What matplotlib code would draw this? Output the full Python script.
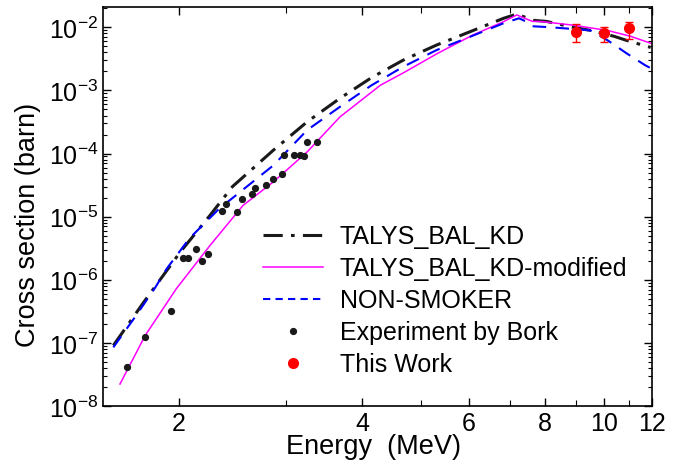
import matplotlib
matplotlib.use("Agg")
import matplotlib.pyplot as plt
from matplotlib.lines import Line2D
from matplotlib.ticker import FixedLocator, FixedFormatter, NullFormatter, LogLocator

plt.rcParams['font.family'] = ['Liberation Sans', 'DejaVu Sans']
plt.rcParams['mathtext.fontset'] = 'custom'
plt.rcParams['mathtext.rm'] = 'Liberation Sans'
plt.rcParams['mathtext.it'] = 'Liberation Sans:italic'
plt.rcParams['mathtext.default'] = 'regular'

# TALYS_BAL_KD
talys_e = [1.56, 1.66, 1.75, 2.01, 2.25, 2.45, 2.86, 3.25, 3.68, 4.15, 4.68, 5.31, 6.03, 6.84, 7.19,
           7.66, 8.05, 8.91, 9.5, 10.4, 10.9, 11.94]
talys_xs = [9.1e-8, 2.13e-7, 4.4e-7, 2.75e-6, 1.05e-5, 3.0e-5, 1.13e-4, 3.18e-4, 7.5e-4, 1.6e-3, 3.03e-3,
            5.25e-3, 8.55e-3, 1.39e-2, 1.62e-2, 1.29e-2, 1.24e-2, 1.0e-2, 8.95e-3, 7.2e-3, 6.2e-3, 4.8e-3]

# TALYS_BAL_KD-modified
mod_e = [1.60, 1.76, 1.98, 2.25, 2.55, 2.86, 3.25, 3.68, 4.29, 4.68, 5.31, 6.08, 6.84, 7.19, 7.63, 7.86,
         8.91, 10.15, 11.07, 11.94]
mod_xs = [2.23e-8, 1.31e-7, 7.2e-7, 3.5e-6, 1.51e-5, 3.56e-5, 1.06e-4, 3.8e-4, 1.21e-3, 1.9e-3, 3.8e-3,
          7.5e-3, 1.23e-2, 1.57e-2, 1.24e-2, 1.24e-2, 1.08e-2, 8.9e-3, 7.2e-3, 5.6e-3]

# NON-SMOKER
ns_e = [1.56, 1.70, 1.83, 1.91, 2.08, 2.33, 2.86, 3.25, 3.68, 4.15, 4.68, 5.31, 6.03, 6.84, 7.25, 7.5,
        7.63, 8.2, 9.5, 10.15, 10.9, 11.7, 12.0]
ns_xs = [8.5e-8, 2.7e-7, 7.65e-7, 1.5e-6, 4.5e-6, 1.34e-5, 6.5e-5, 2.35e-4, 5.5e-4, 1.21e-3, 2.38e-3,
         4.37e-3, 7.1e-3, 1.16e-2, 1.39e-2, 1.2e-2, 1.04e-2, 1.0e-2, 8.95e-3, 6.2e-3, 3.87e-3, 2.5e-3, 2.2e-3]

# Experiment by Bork
bork_e = [1.646, 1.76, 1.94, 2.03, 2.07, 2.13, 2.18, 2.23, 2.35, 2.39, 2.49, 2.54, 2.64, 2.67, 2.78, 2.86,
          2.95, 2.98, 3.09, 3.16, 3.21, 3.25, 3.37]
bork_xs = [4.2e-8, 1.23e-7, 3.26e-7, 2.21e-6, 2.2e-6, 3.1e-6, 1.95e-6, 2.56e-6, 1.23e-5, 1.6e-5, 1.2e-5,
           1.88e-5, 2.3e-5, 2.8e-5, 3.2e-5, 3.9e-5, 4.7e-5, 9.4e-5, 9.6e-5, 9.6e-5, 9.2e-5, 1.5e-4, 1.5e-4]

# This work
this_e = [9.0, 10.0, 11.0]
this_xs = [8.55e-3, 8.0e-3, 9.6e-3]
this_lo = [5.8e-3, 5.9e-3, 6.45e-3]
this_hi = [1.12e-2, 1.03e-2, 1.23e-2]

fig = plt.figure(figsize=(6.81, 4.64), dpi=100)
ax = fig.add_axes([0.1512, 0.1228, 0.8062, 0.86])

ax.plot(talys_e, talys_xs, color='#1a1a1a', lw=2.2, dashes=(6.3, 2.7, 1.2, 2.7))
ax.plot(mod_e, mod_xs, color='#ff00ff', lw=1.1)
ax.plot(ns_e, ns_xs, color='#0000ff', lw=1.5, dashes=(6.5, 4.5))

bork_err = [v * 0.06 for v in bork_xs]
ax.errorbar(bork_e, bork_xs, yerr=bork_err, fmt='o', color='#1a1a1a', ms=4.2,
            capsize=1.5, elinewidth=0.8)

yerr = [[v - lo for v, lo in zip(this_xs, this_lo)], [hi - v for v, hi in zip(this_xs, this_hi)]]
ax.errorbar(this_e, this_xs, yerr=yerr, fmt='o', color='#ff0000', ms=7,
            capsize=3, elinewidth=1)

ax.set_xscale('log')
ax.set_yscale('log')
ax.set_xlim(1.5, 12)
ax.set_ylim(1e-8, 2.1e-2)

ax.xaxis.set_major_locator(FixedLocator([2, 4, 6, 8, 10, 12]))
ax.xaxis.set_minor_locator(FixedLocator([3, 5, 7, 9, 11]))
ax.xaxis.set_major_formatter(FixedFormatter(['2', '4', '6', '8', '10', '12']))
ax.xaxis.set_minor_formatter(NullFormatter())
ax.yaxis.set_major_locator(LogLocator(base=10, numticks=20))
ax.yaxis.set_minor_locator(LogLocator(base=10, subs=range(2, 10), numticks=20))

ax.tick_params(which='both', direction='in', top=True, right=True, labelsize=18)
ax.tick_params(which='major', length=6, width=1)
ax.tick_params(which='minor', length=3, width=0.8)
ax.tick_params(axis='x', which='minor', length=4)
for s in ax.spines.values():
    s.set_linewidth(1.2)

ax.set_xlabel('Energy  (MeV)', fontsize=19.5)
ax.xaxis.set_label_coords(0.493, -0.068)
ax.set_ylabel('Cross section (barn)', fontsize=19.5)
ax.yaxis.set_label_coords(-0.113, 0.456)

handles = [
    Line2D([], [], color='#1a1a1a', lw=2.2, dashes=(6.3, 2.7, 1.2, 2.7)),
    Line2D([], [], color='#ff00ff', lw=1.1),
    Line2D([], [], color='#0000ff', lw=1.5, dashes=(3.5, 2.5)),
    Line2D([], [], color='#1a1a1a', ls='none', marker='o', ms=4.2),
    Line2D([], [], color='#ff0000', ls='none', marker='o', ms=7),
]
labels = ['TALYS_BAL_KD', 'TALYS_BAL_KD-modified', 'NON-SMOKER', 'Experiment by Bork', 'This Work']
ax.legend(handles, labels, loc='upper left', bbox_to_anchor=(0.2914, 0.455),
          frameon=False, fontsize=18, handlelength=2.4, handletextpad=0.68,
          labelspacing=0.32, borderpad=0, borderaxespad=0)

fig.savefig('out.png', dpi=100)
